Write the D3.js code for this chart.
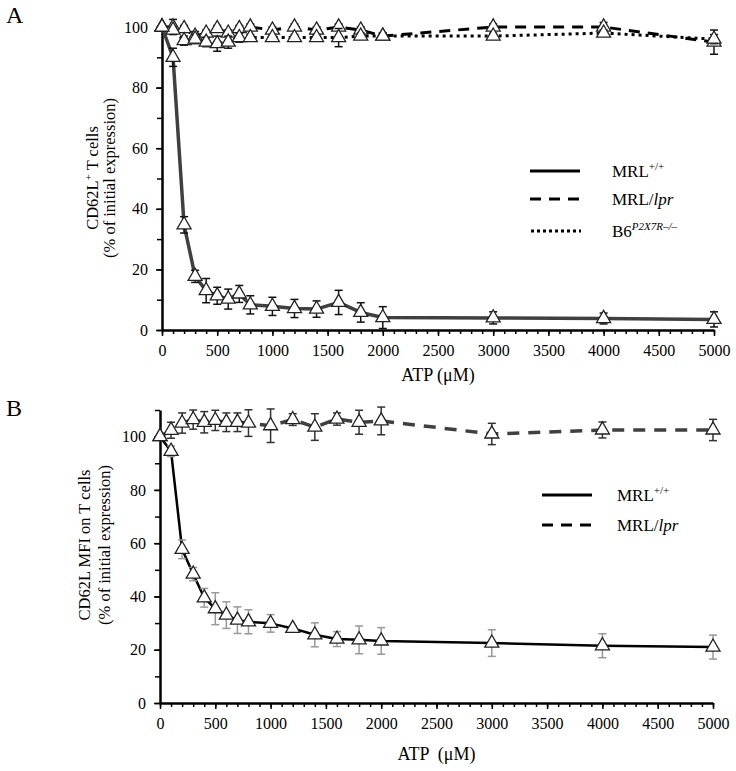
<!DOCTYPE html>
<html>
<head>
<meta charset="utf-8">
<script src="https://cdn.jsdelivr.net/npm/d3@7/dist/d3.min.js"></script>
<style>
  body { margin: 0; background: #fff; }
  svg { display: block; }
  text { font-family: "Liberation Serif", "Times New Roman", serif; fill: #000; }
</style>
</head>
<body>
<svg id="chart" width="736" height="771"></svg>
<script>
// ---------- DATA ----------
const atpA = [0,100,200,300,400,500,600,700,800,1000,1200,1400,1600,1800,2000,3000,4000,5000];
const aMrlWt     = [100,90,34.7,17.7,13,11.3,10.2,11.9,8.3,7.8,7.1,6.9,9.1,5.8,4.1,4,3.8,3.5];
const aMrlWtErr  = [0.5,3,2.7,2,4,2.8,3.3,2.8,3,3,3,2.7,4,3.2,3.6,2,1.8,2.5];
const aMrlLpr    = [100,100,99.5,97,98,99.5,98,99.5,100,99,100,99,100,99,97,100,100,95];
const aMrlLprErr = [0.5,2.5,1,1.5,1,1,1,1,1,1,1,1,1,1,1,1,1.5,4];
const aB6        = [100,99,95.5,96,95,94.5,95,96.5,96.5,96.5,96.5,96.5,96.5,97,97,97,98,96];
const aB6Err     = [0.5,1,1.5,1.5,1.5,2.5,2,1.5,1,1,1,1,3,1,1,1,1,1.5];

const atpB = [0,100,200,300,400,500,600,700,800,1000,1200,1400,1600,1800,2000,3000,4000,5000];
const bMrlWt     = [100,94.5,57.7,48.4,39.5,35.4,33,31.1,30.5,29.9,28,25.6,24,23.7,23.3,22.5,21.5,21];
const bMrlWtErr  = [0.5,2,3.5,2.5,3.5,6,5,5,4.5,3.3,1,4.5,2.8,5.2,5,5,4.5,4.5];
const bMrlLpr    = [100,102.4,105.1,106.4,105.4,106.1,105.4,105.4,105.1,104.1,106.4,103.6,106.6,105.4,105.9,101,102.5,102.5];
const bMrlLprErr = [0.5,3,3.8,3.6,4,3.8,3.5,3.5,5,6.3,2.2,5,2.3,4.5,5.2,4,3,4];

const xTicks = [0,500,1000,1500,2000,2500,3000,3500,4000,4500,5000];
const yTicks = [0,20,40,60,80,100];

// ---------- DRAW ----------
const svg = d3.select("#chart");
const fmt = d3.format("d");

function drawPanel(cfg) {
  const g = svg.append("g");
  const x = d3.scaleLinear().domain([0,5000]).range([cfg.x0, cfg.x1]);
  const y = d3.scaleLinear().domain([0, cfg.ymax]).range([cfg.y0, cfg.y1]);

  // axes
  const minorX = d3.range(0, 5001, 100);
  const minorY = d3.range(0, cfg.ymax + 0.1, 10);
  g.append("g").attr("transform", `translate(0,${cfg.y0})`)
    .call(d3.axisBottom(x).tickValues(minorX).tickSize(4).tickFormat(""))
    .call(a => a.select(".domain").remove())
    .call(a => a.selectAll("line").attr("stroke", "#000").attr("stroke-width", 1.5));
  g.append("g").attr("transform", `translate(0,${cfg.y0})`)
    .call(d3.axisBottom(x).tickValues(xTicks).tickFormat(fmt).tickSize(6).tickSizeOuter(0).tickPadding(9))
    .attr("font-family", null)
    .call(a => a.select(".domain").attr("stroke", "#000").attr("stroke-width", 2.5))
    .call(a => a.selectAll("line").attr("stroke", "#000").attr("stroke-width", 1.5))
    .call(a => a.selectAll("text").attr("font-size", 16));
  g.append("g").attr("transform", `translate(${cfg.x0},0)`)
    .call(d3.axisLeft(y).tickValues(minorY).tickSize(5).tickFormat(""))
    .call(a => a.select(".domain").remove())
    .call(a => a.selectAll("line").attr("stroke", "#000").attr("stroke-width", 1.5));
  g.append("g").attr("transform", `translate(${cfg.x0},0)`)
    .call(d3.axisLeft(y).tickValues(yTicks).tickFormat(fmt).tickSize(6).tickSizeOuter(0).tickPadding(8))
    .attr("font-family", null)
    .call(a => a.select(".domain").attr("stroke", "#000").attr("stroke-width", 2.5))
    .call(a => a.selectAll("line").attr("stroke", "#000").attr("stroke-width", 1.5))
    .call(a => a.selectAll("text").attr("font-size", 16));

  // series: lines first, then error bars and markers
  const line = d3.line().x(d => x(d[0])).y(d => y(d[1]));
  cfg.series.forEach(s => {
    const pts = cfg.atp.map((a, i) => [a, s.vals[i]]);
    g.append("path").attr("d", line(pts)).attr("fill", "none")
      .attr("stroke", s.color).attr("stroke-width", s.width)
      .attr("stroke-dasharray", s.dash || null)
      .attr("stroke-linejoin", "round");
  });
  cfg.series.forEach(s => {
    const eg = g.append("g");
    cfg.atp.forEach((a, i) => {
      const v = s.vals[i], e = s.err[i];
      const cx = x(a);
      eg.append("line").attr("x1", cx).attr("x2", cx)
        .attr("y1", y(v - e)).attr("y2", y(v + e))
        .attr("stroke", s.errColor).attr("stroke-width", 1.5);
      [v - e, v + e].forEach(t => {
        eg.append("line").attr("x1", cx - 4).attr("x2", cx + 4)
          .attr("y1", y(t)).attr("y2", y(t))
          .attr("stroke", s.errColor).attr("stroke-width", 1.5);
      });
    });
    const sym = d3.symbol().type(d3.symbolTriangle).size(85);
    g.append("g").selectAll("path").data(cfg.atp.map((a, i) => [a, s.vals[i]]))
      .join("path")
      .attr("d", sym)
      .attr("transform", d => `translate(${x(d[0])},${y(d[1])})`)
      .attr("fill", "#fff").attr("stroke", "#222").attr("stroke-width", 1.3);
  });

  // titles
  g.append("text").attr("x", (cfg.x0 + cfg.x1) / 2).attr("y", cfg.xTitleY)
    .attr("text-anchor", "middle").attr("font-size", 18).attr("xml:space", "preserve")
    .text(cfg.xTitle);
  g.append("text").attr("x", 6).attr("y", cfg.labelY).attr("font-size", 24).text(cfg.label);

  const yt1 = g.append("text").attr("transform", `translate(${cfg.yt1x},${cfg.ytCy}) rotate(-90)`)
    .attr("text-anchor", "middle").attr("font-size", 16.5);
  cfg.yTitle1(yt1);
  g.append("text").attr("transform", `translate(${cfg.yt2x},${cfg.ytCy}) rotate(-90)`)
    .attr("text-anchor", "middle").attr("font-size", 16.5).text("(% of initial expression)");

  // legend
  cfg.legend.forEach(l => {
    g.append("line").attr("x1", l.lx0).attr("x2", l.lx1).attr("y1", l.y).attr("y2", l.y)
      .attr("stroke", "#000").attr("stroke-width", 3).attr("stroke-dasharray", l.dash || null);
    const t = g.append("text").attr("x", l.tx).attr("y", l.y + 6).attr("font-size", 17);
    l.text(t);
  });
}

const mrlWt = t => { t.append("tspan").text("MRL"); t.append("tspan").attr("dy", -7).attr("font-size", 11).text("+/+"); };
const mrlLpr = t => { t.append("tspan").text("MRL/"); t.append("tspan").attr("font-style", "italic").text("lpr"); };
const b6 = t => { t.append("tspan").text("B6"); t.append("tspan").attr("dy", -7).attr("font-size", 11).attr("font-style", "italic").text("P2X7R–/–"); };

drawPanel({
  x0: 162, x1: 714, y0: 330, y1: 27, ymax: 100, atp: atpA,
  label: "A", labelY: 23, xTitle: "ATP (μM)", xTitleY: 381,
  yt1x: 98, yt2x: 115, ytCy: 178,
  yTitle1: t => { t.append("tspan").text("CD62L"); t.append("tspan").attr("dy", -6).attr("font-size", 11).text("+"); t.append("tspan").attr("dy", 6).text(" T cells"); },
  series: [
    { vals: aMrlLpr, err: aMrlLprErr, color: "#000", width: 3, dash: "11,8", errColor: "#111" },
    { vals: aB6, err: aB6Err, color: "#000", width: 3, dash: "3,4", errColor: "#111" },
    { vals: aMrlWt, err: aMrlWtErr, color: "#404040", width: 3.5, errColor: "#111" }
  ],
  legend: [
    { y: 171, lx0: 530, lx1: 580, tx: 612, text: mrlWt },
    { y: 199, lx0: 530, lx1: 580, dash: "11,8", tx: 612, text: mrlLpr },
    { y: 231, lx0: 531, lx1: 581, dash: "3,3", tx: 612, text: b6 }
  ]
});

drawPanel({
  x0: 160, x1: 713, y0: 703, y1: 410, ymax: 110, atp: atpB,
  label: "B", labelY: 416, xTitle: "ATP  (μM)", xTitleY: 760,
  yt1x: 90, yt2x: 110, ytCy: 545,
  yTitle1: t => t.text("CD62L MFI on T cells"),
  series: [
    { vals: bMrlLpr, err: bMrlLprErr, color: "#404040", width: 3.5, dash: "12,9", errColor: "#333" },
    { vals: bMrlWt, err: bMrlWtErr, color: "#000", width: 2.5, errColor: "#999" }
  ],
  legend: [
    { y: 495, lx0: 542, lx1: 592, tx: 617, text: mrlWt },
    { y: 525, lx0: 542, lx1: 592, dash: "11,8", tx: 617, text: mrlLpr }
  ]
});
</script>
</body>
</html>
